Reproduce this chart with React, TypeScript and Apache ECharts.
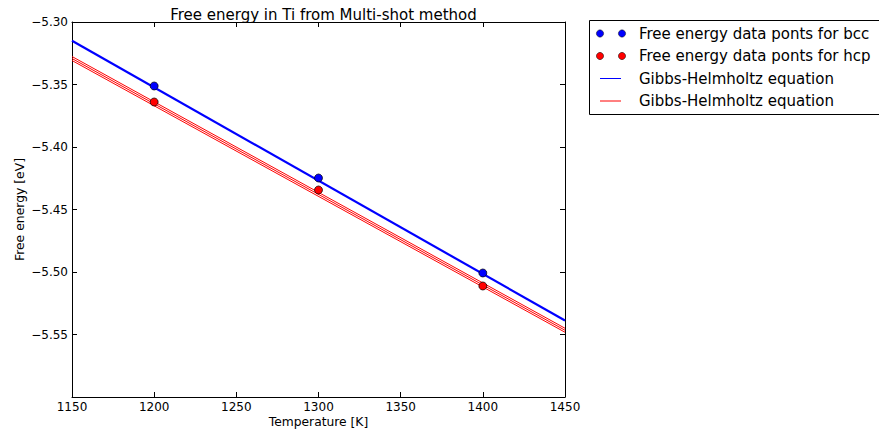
import React, { useEffect, useRef } from "react";
import * as echarts from "echarts";

// Measured free energies (eV) at each temperature (K)
const temps = [1200, 1300, 1400];
const bccPoints = [-5.3512, -5.4248, -5.5008];
const hcpPoints = [-5.364, -5.4344, -5.5112];

// Gibbs-Helmholtz fits evaluated across the temperature range
const fitTemps = [1150, 1450];
const bccFit = [-5.315, -5.5388];
const hcpFitUpper = [-5.3276, -5.545];
const hcpFitMid = [-5.3292, -5.5466];
const hcpFitLower = [-5.3308, -5.5482];

const xTicks = { min: 1150, max: 1450, step: 50 };
const yTicks = { min: -5.6, max: -5.3, step: 0.05 };

const legendLabels = [
  "Free energy data ponts for bcc",
  "Free energy data ponts for hcp",
  "Gibbs-Helmholtz equation",
  "Gibbs-Helmholtz equation",
];

const FONT = "DejaVu Sans";
const BLUE = "#0000ff";
const RED = "#ff0000";

const pairs = (xs: number[], ys: number[]) => xs.map((x, i) => [x, ys[i]]);

export default function App() {
  const ref = useRef<HTMLDivElement>(null);

  useEffect(() => {
    if (!ref.current) return;
    const chart = echarts.init(ref.current, undefined, { renderer: "svg" });

    const fitLine = (name: string, ys: number[], color: string, width: number) => ({
      name,
      type: "line",
      data: pairs(fitTemps, ys),
      showSymbol: false,
      symbol: "none",
      lineStyle: { color, width },
      z: 2,
    });

    const dots = (name: string, ys: number[], color: string) => ({
      name,
      type: "scatter",
      data: pairs(temps, ys),
      symbol: "circle",
      symbolSize: 8,
      itemStyle: { color, borderColor: "#000", borderWidth: 0.7, opacity: 1 },
      z: 5,
    });

    const inTick = { show: true, inside: true, length: 5, lineStyle: { color: "#000", width: 1 } };
    const axisLine = { show: true, onZero: false, lineStyle: { color: "#000", width: 1 } };

    const rows = [33.5, 56, 78.5, 101];
    const legendGraphic: any[] = [
      {
        type: "rect",
        shape: { x: 589.5, y: 20.5, width: 300, height: 94 },
        style: { fill: "#fff", stroke: "#000", lineWidth: 1 },
      },
    ];
    [BLUE, RED].forEach((c, i) => {
      [600, 622].forEach((cx) =>
        legendGraphic.push({
          type: "circle",
          shape: { cx, cy: rows[i], r: 3.6 },
          style: { fill: c, stroke: "#000", lineWidth: 0.5 },
        })
      );
    });
    [BLUE, RED].forEach((c, i) => {
      legendGraphic.push({
        type: "line",
        shape: { x1: 600, y1: rows[i + 2], x2: 621, y2: rows[i + 2] },
        style: { stroke: c, lineWidth: 1 },
      });
    });
    legendLabels.forEach((t, i) =>
      legendGraphic.push({
        type: "text",
        x: 639,
        y: rows[i],
        style: {
          text: t,
          font: `15px '${FONT}'`,
          fill: "#000",
          verticalAlign: "middle",
        },
      })
    );

    const fmtX = (v: number) => String(v);
    const fmtY = (v: number) =>
      v < yTicks.min + 1e-6 ? "" : v.toFixed(2).replace("-", "\u2212");

    chart.setOption({
      animation: false,
      backgroundColor: "#fff",
      textStyle: { fontFamily: FONT },
      title: {
        text: "Free energy in Ti from Multi-shot method",
        left: 318.5,
        top: 2,
        textAlign: "center",
        textStyle: { fontFamily: FONT, fontSize: 15, fontWeight: "normal", color: "#000" },
      },
      grid: {
        left: 72,
        right: 314,
        top: 22,
        bottom: 39,
        containLabel: false,
        outerBoundsMode: "none",
      },
      xAxis: [
        {
          type: "value",
          min: xTicks.min,
          max: xTicks.max,
          interval: xTicks.step,
          position: "bottom",
          name: "Temperature [K]",
          nameLocation: "middle",
          nameGap: 19,
          nameMoveOverlap: false,
          nameTextStyle: { fontFamily: FONT, fontSize: 12.3, color: "#000" },
          axisLine,
          axisTick: inTick,
          axisLabel: { fontFamily: FONT, fontSize: 12, color: "#000", margin: 4, formatter: fmtX },
          splitLine: { show: false },
        },
        {
          type: "value",
          min: xTicks.min,
          max: xTicks.max,
          interval: xTicks.step,
          position: "top",
          axisLine,
          axisTick: inTick,
          axisLabel: { show: false },
          splitLine: { show: false },
        },
      ],
      yAxis: [
        {
          type: "value",
          min: yTicks.min,
          max: yTicks.max,
          interval: yTicks.step,
          position: "left",
          name: "Free energy [eV]",
          nameLocation: "middle",
          nameGap: 47,
          nameMoveOverlap: false,
          nameTextStyle: { fontFamily: FONT, fontSize: 12.4, color: "#000" },
          axisLine,
          axisTick: inTick,
          axisLabel: { fontFamily: FONT, fontSize: 12, color: "#000", margin: 4, formatter: fmtY },
          splitLine: { show: false },
        },
        {
          type: "value",
          min: yTicks.min,
          max: yTicks.max,
          interval: yTicks.step,
          position: "right",
          axisLine,
          axisTick: inTick,
          axisLabel: { show: false },
          splitLine: { show: false },
        },
      ],
      series: [
        fitLine("Gibbs-Helmholtz equation (bcc)", bccFit, BLUE, 2.2),
        fitLine("Gibbs-Helmholtz equation (hcp, upper)", hcpFitUpper, RED, 1),
        fitLine("Gibbs-Helmholtz equation (hcp)", hcpFitMid, RED, 1),
        fitLine("Gibbs-Helmholtz equation (hcp, lower)", hcpFitLower, RED, 1),
        dots("Free energy data ponts for bcc", bccPoints, BLUE),
        dots("Free energy data ponts for hcp", hcpPoints, RED),
      ],
      graphic: legendGraphic,
    });

    return () => chart.dispose();
  }, []);

  return (
    <div
      ref={ref}
      style={{ position: "fixed", left: 0, top: 0, width: 879, height: 436, background: "#fff" }}
    />
  );
}
